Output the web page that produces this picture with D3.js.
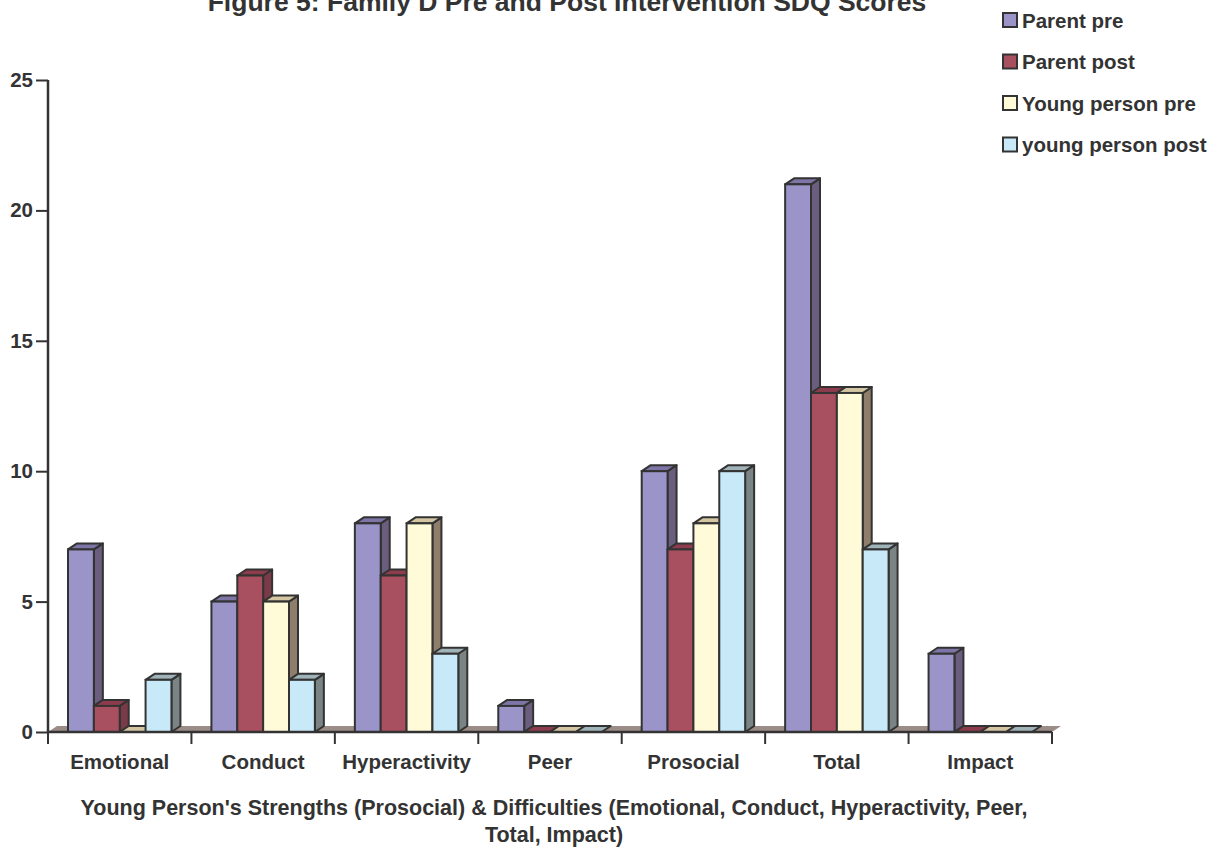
<!DOCTYPE html>
<html>
<head>
<meta charset="utf-8">
<script src="https://cdn.jsdelivr.net/npm/d3@7"></script>
<style>
  html, body { margin: 0; padding: 0; background: #fff; }
  svg { display: block; font-family: "Liberation Sans", Arial, Helvetica, sans-serif; font-weight: bold; }
</style>
</head>
<body>
<svg id="chart" width="1225" height="848"></svg>
<script>
const categories = ["Emotional", "Conduct", "Hyperactivity", "Peer", "Prosocial", "Total", "Impact"];
const seriesNames = ["Parent pre", "Parent post", "Young person pre", "young person post"];
const parentPre = [7, 5, 8, 1, 10, 21, 3];
const parentPost = [1, 6, 6, 0, 7, 13, 0];
const youngPre = [0, 5, 8, 0, 8, 13, 0];
const youngPost = [2, 2, 3, 0, 10, 7, 0];
const yTicks = [0, 5, 10, 15, 20, 25];
const titleText = "Figure 5: Family D Pre and Post Intervention SDQ Scores";
const xTitleLines = ["Young Person's Strengths (Prosocial) & Difficulties (Emotional, Conduct, Hyperactivity, Peer,", "Total, Impact)"];

const fronts = ["#9b94c8", "#a8505f", "#fffad8", "#c8eaf8"];
const tops = ["#7e75a6", "#8c3c4c", "#d4c6a2", "#9fb3b9"];
const sides = ["#6a5d7d", "#7a3a48", "#8f7e6b", "#7b8484"];
const stroke = "#333333";
const textCol = "#333333";

const seriesValues = [parentPre, parentPost, youngPre, youngPost];

const svg = d3.select("#chart");
const X0 = 48, X1 = 1052, Y0 = 732, Y1 = 80;
const dx = 9, dy = 6;

const x = d3.scaleBand().domain(categories).range([X0, X1]).padding(0);
const bw = x.bandwidth();
const xs = d3.scaleBand().domain(d3.range(seriesNames.length)).range([20, bw - 20]).padding(0);
const y = d3.scaleLinear().domain([0, 25]).range([Y0, Y1]);

// floor
svg.append("path")
  .attr("d", `M${X0},${Y0}L${X1},${Y0}L${X1 + dx},${Y0 - dy}L${X0 + dx},${Y0 - dy}Z`)
  .attr("fill", "#9c8c87");

// bars
categories.forEach((cat, ci) => {
  seriesValues.forEach((vals, si) => {
    const v = vals[ci];
    const bx = x(cat) + xs(si);
    const w = xs.bandwidth();
    const yt = y(v);
    const g = svg.append("g");
    if (v > 0) {
      g.append("path")
        .attr("d", `M${bx + w},${Y0}L${bx + w + dx},${Y0 - dy}L${bx + w + dx},${yt - dy}L${bx + w},${yt}Z`)
        .attr("fill", sides[si]).attr("stroke", stroke).attr("stroke-width", 2).attr("stroke-linejoin", "round");
    }
    g.append("path")
      .attr("d", `M${bx},${yt}L${bx + dx},${yt - dy}L${bx + w + dx},${yt - dy}L${bx + w},${yt}Z`)
      .attr("fill", tops[si]).attr("stroke", stroke).attr("stroke-width", 2).attr("stroke-linejoin", "round");
    if (v > 0) {
      g.append("rect")
        .attr("x", bx).attr("y", yt).attr("width", w).attr("height", Y0 - yt)
        .attr("fill", fronts[si]).attr("stroke", stroke).attr("stroke-width", 2);
    }
  });
});

// y axis
const yAxis = d3.axisLeft(y).tickValues(yTicks).tickSize(12).tickPadding(3);
const yg = svg.append("g").attr("transform", `translate(${X0},0)`).call(yAxis);
yg.select(".domain").attr("stroke", stroke).attr("stroke-width", 2.5).attr("d", `M0,${Y1}V${Y0}`);
yg.selectAll(".tick line").attr("stroke", stroke).attr("stroke-width", 2);
yg.selectAll(".tick text").attr("fill", textCol).attr("font-size", 20.5).attr("font-weight", "bold")
  .attr("font-family", "Liberation Sans, Arial, sans-serif");

// x axis
const xAxis = d3.axisBottom(x).tickSize(0).tickPadding(22);
const xg = svg.append("g").attr("transform", `translate(0,${Y0})`).call(xAxis);
xg.select(".domain").attr("stroke", stroke).attr("stroke-width", 2.5).attr("d", `M${X0},0H${X1}`);
xg.selectAll(".tick text").attr("fill", textCol).attr("font-size", 20.5).attr("font-weight", "bold")
  .attr("font-family", "Liberation Sans, Arial, sans-serif").attr("dy", "0.71em");
const bounds = categories.map(c => x(c)).concat([X1]);
xg.selectAll("line.bound").data(bounds).enter().append("line").attr("class", "bound")
  .attr("x1", d => d).attr("x2", d => d).attr("y1", 0).attr("y2", 12)
  .attr("stroke", stroke).attr("stroke-width", 2);

// title
svg.append("text").attr("x", 567).attr("y", 11).attr("text-anchor", "middle")
  .attr("font-size", 26.5).attr("fill", textCol).text(titleText);

// x title
xTitleLines.forEach((t, i) => {
  svg.append("text").attr("x", 554).attr("y", 815 + i * 27).attr("text-anchor", "middle")
    .attr("font-size", 21.5).attr("fill", textCol).text(t);
});

// legend
const lg = svg.append("g");
seriesNames.forEach((n, i) => {
  const cy = 20 + i * 41.5;
  lg.append("rect").attr("x", 1003).attr("y", cy - 7).attr("width", 14).attr("height", 14)
    .attr("fill", fronts[i]).attr("stroke", stroke).attr("stroke-width", 2);
  lg.append("text").attr("x", 1022).attr("y", cy + 7.5).attr("font-size", 20.5).attr("fill", textCol).text(n);
});
</script>
</body>
</html>
